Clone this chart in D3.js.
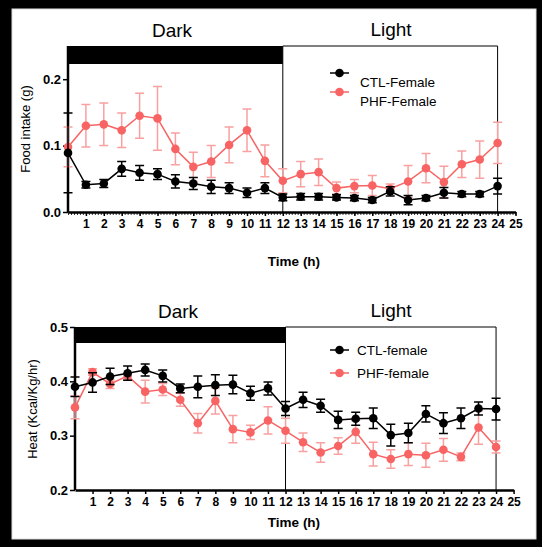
<!DOCTYPE html>
<html>
<head>
<meta charset="utf-8">
<script src="https://cdn.jsdelivr.net/npm/d3@7"></script>
<style>
  html, body { margin: 0; padding: 0; background: #000; }
  svg { display: block; }
  text { font-family: "Liberation Sans", Arial, sans-serif; }
</style>
</head>
<body>
<div id="chart"></div>
<script>
// ------------------------------------------------------------
//  data (hours 0..24)
// ------------------------------------------------------------
let hours = d3.range(0, 25);
let xTickValues = d3.range(1, 26);

// food intake (g)
let ctlFood    = [0.089, 0.041, 0.043, 0.065, 0.059, 0.057, 0.046, 0.043, 0.038, 0.036, 0.029, 0.036,
                  0.022, 0.023, 0.023, 0.022, 0.021, 0.018, 0.031, 0.018, 0.021, 0.029, 0.027, 0.027, 0.039];
let ctlFoodErr = [0.060, 0.005, 0.006, 0.011, 0.011, 0.008, 0.010, 0.009, 0.010, 0.008, 0.007, 0.008,
                  0.005, 0.005, 0.005, 0.004, 0.004, 0.004, 0.007, 0.007, 0.004, 0.008, 0.004, 0.004, 0.012];
let phfFood    = [0.098, 0.130, 0.132, 0.123, 0.145, 0.141, 0.095, 0.068, 0.076, 0.101, 0.123, 0.077,
                  0.047, 0.057, 0.060, 0.036, 0.039, 0.040, 0.035, 0.046, 0.066, 0.045, 0.072, 0.079, 0.104];
let phfFoodErr = [0.030, 0.032, 0.032, 0.026, 0.034, 0.048, 0.024, 0.022, 0.024, 0.027, 0.032, 0.024,
                  0.018, 0.019, 0.020, 0.009, 0.010, 0.015, 0.007, 0.024, 0.022, 0.024, 0.020, 0.028, 0.031];

// heat (Kcal/Kg/hr)
let ctlHeat    = [0.390, 0.398, 0.409, 0.415, 0.421, 0.410, 0.387, 0.390, 0.393, 0.394, 0.378, 0.387,
                  0.350, 0.366, 0.355, 0.329, 0.331, 0.332, 0.301, 0.305, 0.340, 0.323, 0.332, 0.350, 0.349];
let ctlHeatErr = [0.018, 0.018, 0.015, 0.013, 0.011, 0.011, 0.008, 0.020, 0.019, 0.017, 0.013, 0.012,
                  0.013, 0.014, 0.012, 0.016, 0.012, 0.019, 0.020, 0.018, 0.015, 0.019, 0.019, 0.012, 0.020];
let phfHeat    = [0.352, 0.417, 0.395, 0.410, 0.381, 0.385, 0.366, 0.323, 0.364, 0.312, 0.306, 0.328,
                  0.309, 0.288, 0.269, 0.281, 0.307, 0.266, 0.257, 0.266, 0.264, 0.274, 0.261, 0.315, 0.279];
let phfHeatErr = [0.021, 0.006, 0.008, 0.006, 0.021, 0.011, 0.012, 0.018, 0.024, 0.025, 0.013, 0.025,
                  0.023, 0.017, 0.018, 0.015, 0.021, 0.022, 0.017, 0.021, 0.022, 0.021, 0.007, 0.031, 0.011];

let foodTicks = [0.0, 0.1, 0.2];
let heatTicks = [0.2, 0.3, 0.4, 0.5];

const black = "#000";
const pink = "#F86464";
const pinkErr = "#F9A0A0";

// ------------------------------------------------------------
const W = 542, H = 547;
const svg = d3.select("#chart").append("svg")
    .attr("width", W)
    .attr("height", H);

svg.append("rect").attr("width", W).attr("height", H).attr("fill", "#000");
svg.append("rect")
    .attr("x", 12).attr("y", 9)
    .attr("width", 524).attr("height", 530)
    .attr("fill", "#fff")
    .attr("stroke", "#ddd");

function drawPanel(p){
    const x = d3.scaleLinear().domain([0, 25]).range([p.left, p.right]);
    const y = d3.scaleLinear().domain(p.yDomain).range([p.bottom, p.top]);
    const g = svg.append("g");

    // dark bar over first 12 h
    g.append("rect")
        .attr("x", x(0)).attr("y", p.top)
        .attr("width", x(12) - x(0)).attr("height", p.barH)
        .attr("fill", black);

    // light box outline
    g.append("path")
        .attr("d", `M${x(12)},${p.top}H${x(24)}V${p.bottom}`)
        .attr("fill", "none").attr("stroke", black).attr("stroke-width", 1);
    g.append("line")
        .attr("x1", x(12)).attr("x2", x(12))
        .attr("y1", p.top).attr("y2", p.bottom)
        .attr("stroke", black).attr("stroke-width", 1);

    // axes
    const yAxis = g.append("g")
        .attr("transform", `translate(${x(0)},0)`)
        .call(d3.axisLeft(y).tickValues(p.yTicks).tickFormat(d3.format(".1f")).tickSize(5).tickPadding(2));
    yAxis.select(".domain").attr("d", `M0,${p.top}V${p.bottom}`).attr("stroke-width", 2.5);
    yAxis.selectAll(".tick line").attr("stroke-width", 1.5);
    yAxis.selectAll("text")
        .attr("font-size", 13).attr("font-weight", "bold").attr("fill", black);

    if (p.minorX) {
        g.append("g")
            .attr("transform", `translate(0,${p.bottom})`)
            .call(d3.axisBottom(x).tickValues(d3.range(0, 25.01, 1 / 6)).tickSize(3).tickFormat(""))
            .call(a => a.select(".domain").remove())
            .selectAll("line").attr("stroke-width", 0.8);
    }

    const xAxis = g.append("g")
        .attr("transform", `translate(0,${p.bottom})`)
        .call(d3.axisBottom(x).tickValues(xTickValues).tickSize(4).tickPadding(3).tickSizeOuter(0));
    xAxis.select(".domain").attr("stroke-width", 2.5);
    xAxis.selectAll(".tick line").attr("stroke-width", 1.5);
    xAxis.selectAll("text")
        .attr("font-size", 12).attr("font-weight", "bold").attr("fill", black);

    // labels
    g.append("text").attr("x", 172 + p.dx).attr("y", p.top - 9)
        .attr("text-anchor", "middle").attr("font-size", 19).text("Dark");
    g.append("text").attr("x", 391).attr("y", p.top - 10)
        .attr("text-anchor", "middle").attr("font-size", 19).text("Light");
    g.append("text").attr("x", 294).attr("y", p.timeY)
        .attr("text-anchor", "middle").attr("font-size", 13.5).attr("font-weight", "bold")
        .text("Time (h)");
    g.append("text")
        .attr("transform", `translate(${p.yLabX},${p.yLabY}) rotate(-90)`)
        .attr("text-anchor", "middle").attr("font-size", 13)
        .text(p.yLabel);

    // series
    p.series.forEach(s => {
        const pts = hours.map((h, i) => ({ h: h, v: s.values[i], e: s.errs[i] }));
        const eb = g.append("g").attr("stroke", s.errColor).attr("stroke-width", 1.5).attr("fill", "none");
        eb.selectAll("path")
            .data(pts)
            .join("path")
            .attr("d", d => {
                const cx = x(d.h), y1 = y(d.v + d.e), y2 = y(d.v - d.e);
                return `M${cx - 4.5},${y1}H${cx + 4.5}M${cx},${y1}V${y2}M${cx - 4.5},${y2}H${cx + 4.5}`;
            });
        g.append("path")
            .datum(pts)
            .attr("fill", "none").attr("stroke", s.color).attr("stroke-width", 1.5)
            .attr("d", d3.line().x(d => x(d.h)).y(d => y(d.v)));
        g.append("g").selectAll("circle")
            .data(pts)
            .join("circle")
            .attr("cx", d => x(d.h)).attr("cy", d => y(d.v))
            .attr("r", 4.3).attr("fill", s.color);
    });

    // legend
    p.legend.forEach((l, i) => {
        const ly = p.legY + i * p.legStep;
        g.append("line").attr("x1", 330).attr("x2", 349)
            .attr("y1", ly).attr("y2", ly)
            .attr("stroke", l.color).attr("stroke-width", 1.5);
        g.append("circle").attr("cx", 339.5).attr("cy", ly).attr("r", 4.3).attr("fill", l.color);
        g.append("text").attr("x", p.legTextX).attr("y", ly + p.legTextDy)
            .attr("font-size", 13.5).attr("dominant-baseline", "central")
            .text(l.label);
    });
}

drawPanel({
    left: 68, right: 515.5, top: 46, bottom: 212, barH: 18,
    yDomain: [0, 0.25], yTicks: foodTicks, minorX: true, dx: 0,
    timeY: 266, yLabX: 30, yLabY: 129, yLabel: "Food intake (g)",
    series: [
        { values: phfFood, errs: phfFoodErr, color: pink, errColor: pinkErr },
        { values: ctlFood, errs: ctlFoodErr, color: black, errColor: black }
    ],
    legY: 73, legStep: 19, legTextX: 360, legTextDy: 9,
    legend: [
        { label: "CTL-Female", color: black },
        { label: "PHF-Female", color: pink }
    ]
});

drawPanel({
    left: 75, right: 513.6, top: 327, bottom: 490, barH: 16,
    yDomain: [0.2, 0.5], yTicks: heatTicks, minorX: false, dx: 6,
    timeY: 527, yLabX: 37, yLabY: 409, yLabel: "Heat (Kcal/Kg/hr)",
    series: [
        { values: phfHeat, errs: phfHeatErr, color: pink, errColor: pinkErr },
        { values: ctlHeat, errs: ctlHeatErr, color: black, errColor: black }
    ],
    legY: 350, legStep: 23, legTextX: 357, legTextDy: 0,
    legend: [
        { label: "CTL-female", color: black },
        { label: "PHF-female", color: pink }
    ]
});
</script>
</body>
</html>
